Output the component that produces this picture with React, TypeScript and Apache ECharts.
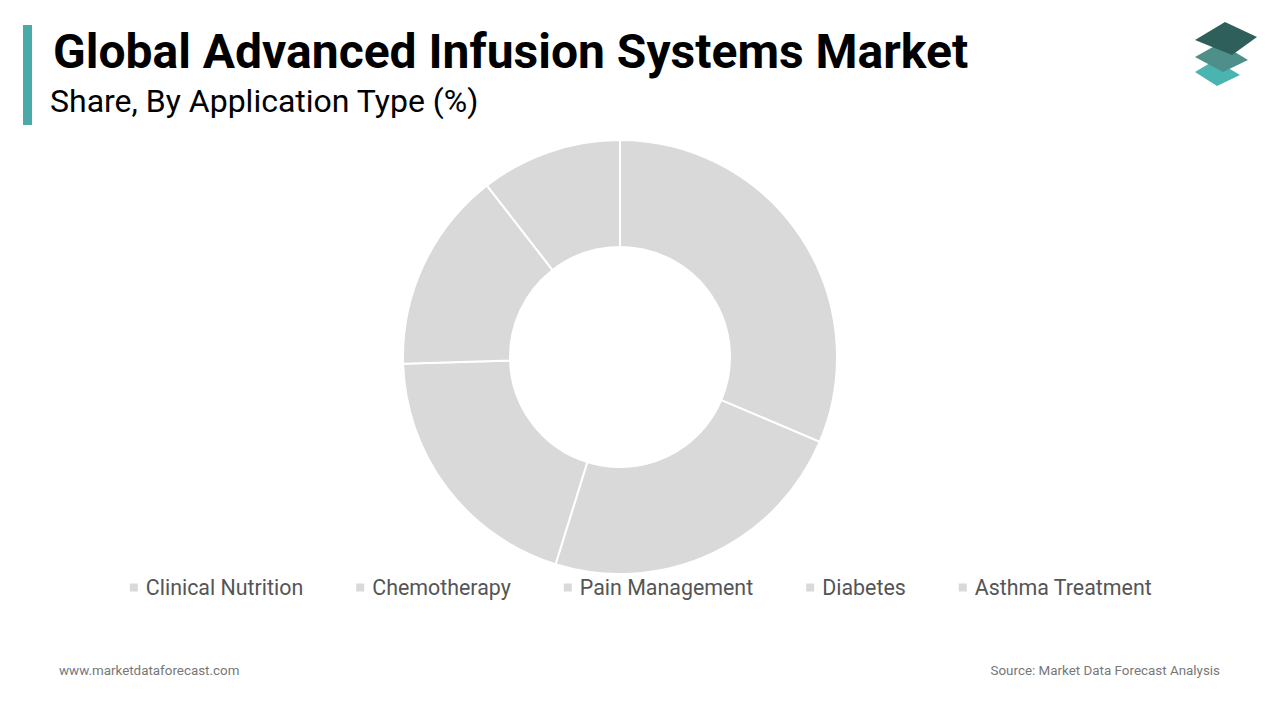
import React, { useEffect, useRef } from "react";
import * as echarts from "echarts";

const categories = ["Clinical Nutrition", "Chemotherapy", "Pain Management", "Diabetes", "Asthma Treatment"];
const shares = [31.4, 23.4, 19.7, 15.0, 10.5];
const title = "Global Advanced Infusion Systems Market";
const subtitle = "Share, By Application Type (%)";
const footerLeft = "www.marketdataforecast.com";
const footerRight = "Source: Market Data Forecast Analysis";

export default function App() {
  const ref = useRef<HTMLDivElement>(null);
  useEffect(() => {
    if (!ref.current) return;
    const chart = echarts.init(ref.current, null, { renderer: "svg" });
    const font = "Roboto, 'Noto Sans', sans-serif";
    chart.setOption({
      animation: false,
      backgroundColor: "#ffffff",
      color: ["#d9d9d9"],
      legend: {
        bottom: 117,
        left: "center",
        itemWidth: 10,
        itemHeight: 10,
        itemGap: 51,
        icon: "rect",
        textStyle: { fontFamily: font, fontSize: 21.4, color: "#555555", padding: [0, 0, 0, 2] },
        data: categories,
      },
      graphic: [
        { type: "rect", shape: { x: 23, y: 25, width: 9, height: 100 }, style: { fill: "#4aa9a9" } },
        {
          type: "text",
          left: 53,
          top: 27,
          style: { text: title, font: `bold 48px ${font}`, fill: "#000000" },
        },
        {
          type: "text",
          left: 50,
          top: 85,
          style: { text: subtitle, font: `32px ${font}`, fill: "#000000" },
        },
        {
          type: "text",
          left: 59,
          top: 664,
          style: { text: footerLeft, font: `13.4px ${font}`, fill: "#777777" },
        },
        {
          type: "text",
          right: 60,
          top: 664,
          style: { text: footerRight, font: `13.4px ${font}`, fill: "#777777" },
        },
        {
          type: "polygon",
          shape: { points: [[1195, 72], [1215, 60], [1240, 75], [1217, 86]] },
          style: { fill: "#4ab5b0" },
        },
        {
          type: "polygon",
          shape: { points: [[1195, 57], [1220, 43], [1248, 60], [1223, 72]] },
          style: { fill: "#4f8f8a" },
        },
        {
          type: "polygon",
          shape: { points: [[1195, 40], [1225, 22], [1257, 37], [1232, 55]] },
          style: { fill: "#2e5f5b" },
        },
      ],
      series: [
        {
          type: "pie",
          center: [620, 357],
          radius: [110, 217],
          startAngle: 90,
          clockwise: true,
          label: { show: false },
          labelLine: { show: false },
          itemStyle: { borderColor: "#ffffff", borderWidth: 2, color: "#d9d9d9" },
          emphasis: { disabled: true },
          data: categories.map((name, i) => ({ name, value: shares[i] })),
        },
      ],
    });
    return () => chart.dispose();
  }, []);
  return <div ref={ref} style={{ position: "absolute", left: 0, top: 0, width: 1280, height: 720 }} />;
}
